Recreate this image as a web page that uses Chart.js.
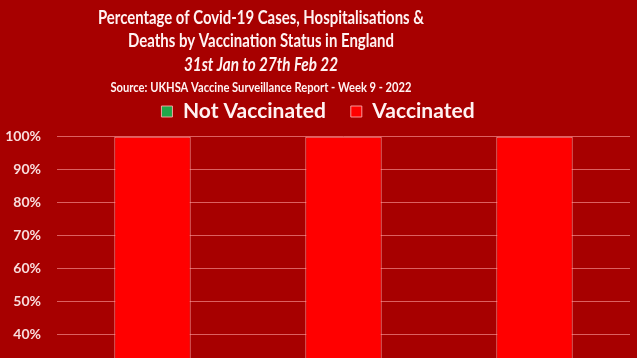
<!DOCTYPE html>
<html><head><meta charset="utf-8">
<script src="https://cdn.jsdelivr.net/npm/chart.js@4/dist/chart.umd.min.js"></script>
<style>
html,body{margin:0;padding:0;overflow:hidden;background:#a70000;}
#wrap{width:637px;height:502px;position:relative;}
</style></head><body>
<div id="wrap"><canvas id="c" width="637" height="502"></canvas></div>
<script>
const categories = ['Cases', 'Hospitalisations', 'Deaths'];
const notVaccinated = [21.8, 23.5, 9.2];
const vaccinated = [78.2, 76.5, 90.8];
const yTicks = [0, 10, 20, 30, 40, 50, 60, 70, 80, 90, 100];
const titleLines = [
  'Percentage of Covid-19 Cases, Hospitalisations &',
  'Deaths by Vaccination Status in England',
  '31st Jan to 27th Feb 22',
  'Source: UKHSA Vaccine Surveillance Report - Week 9 - 2022'
];

const titlePlugin = {
  id: 'multiTitle',
  afterDraw(chart) {
    const ctx = chart.ctx;
    ctx.save();
    ctx.fillStyle = '#fff2f2';
    ctx.textAlign = 'center';
    ctx.textBaseline = 'alphabetic';
    const specs = [
      {font: 'bold 18px Lato', y: 24, w: 326},
      {font: 'bold 18px Lato', y: 47, w: 266},
      {font: 'italic bold 19px Lato', y: 71, w: 154},
      {font: 'bold 14px Lato', y: 92, w: 301}
    ];
    titleLines.forEach((t, i) => {
      const s = specs[i];
      ctx.font = s.font;
      ctx.fillText(t, 261, s.y, s.w);
    });
    ctx.restore();
  }
};

new Chart(document.getElementById('c'), {
  type: 'bar',
  data: {
    labels: categories,
    datasets: [
      {label: 'Not Vaccinated', data: notVaccinated, backgroundColor: '#1fa84a', borderColor: 'rgba(255,170,170,0.9)', borderWidth: 1, categoryPercentage: 1, barPercentage: 0.4},
      {label: 'Vaccinated', data: vaccinated, backgroundColor: '#ff0000', borderColor: 'rgba(255,170,170,0.9)', borderWidth: 1, categoryPercentage: 1, barPercentage: 0.4}
    ]
  },
  options: {
    responsive: false,
    animation: false,
    layout: {padding: {top: 76, left: 6, right: 7, bottom: 4}},
    plugins: {
      title: {display: false},
      tooltip: {enabled: false},
      legend: {
        display: true,
        position: 'top',
        labels: {
          color: '#fff2f2',
          font: {family: 'Lato', weight: 'bold', size: 21},
          boxWidth: 11, boxHeight: 11, padding: 25
        }
      }
    },
    scales: {
      x: {
        stacked: true,
        grid: {display: false},
        border: {display: false},
        ticks: {color: '#fff2f2', font: {family: 'Lato', weight: 'bold', size: 14}}
      },
      y: {
        stacked: true,
        min: 0, max: 101.4,
        afterBuildTicks(axis) { axis.ticks = yTicks.map(v => ({value: v})); },
        afterFit(axis) { axis.width = 51; },
        grid: {color: 'rgba(255,160,160,0.6)', drawTicks: false, lineWidth: 1},
        border: {display: false},
        ticks: {color: '#f8dcdc', padding: 16, font: {family: 'Lato', weight: 'bold', size: 14}, callback: v => v + '%'}
      }
    }
  },
  plugins: [titlePlugin]
});
</script>
</body></html>
